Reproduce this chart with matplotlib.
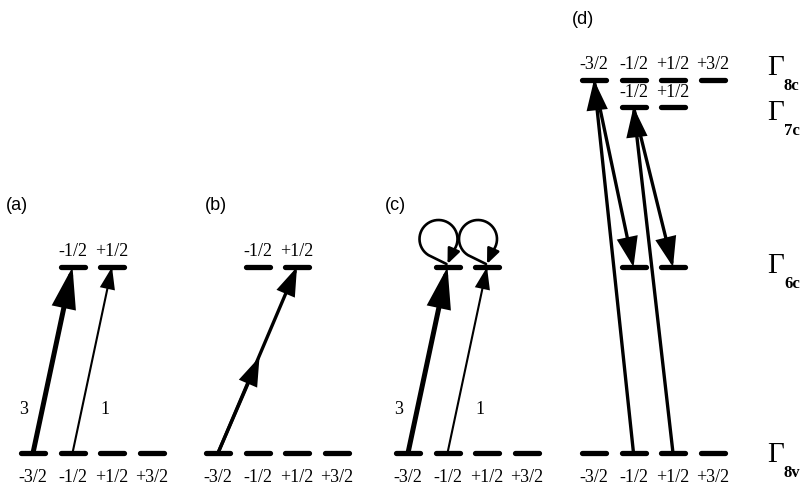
import matplotlib
matplotlib.use('Agg')
import numpy as np
import matplotlib.pyplot as plt
from matplotlib.patches import FancyArrowPatch, ArrowStyle
from matplotlib.path import Path

# spin projections shown under / over each level
spins = ['-3/2', '-1/2', '+1/2', '+3/2']
panel_names = ['(a)', '(b)', '(c)', '(d)']

# level heights (screen-like units, larger = lower on the page)
E = {'8v': 453, '6c': 267, '7c': 107, '8c': 80}
gamma_names = ['8c', '7c', '6c', '8v']

# x of the first column of each panel, and column spacing
panel_x0 = [33, 218, 408, 594]
col_step = 39.5

# which columns each level occupies in each panel
levels = {
    0: {'8v': [0, 1, 2, 3], '6c': [1, 2]},
    1: {'8v': [0, 1, 2, 3], '6c': [1, 2]},
    2: {'8v': [0, 1, 2, 3], '6c': [1, 2]},
    3: {'8v': [0, 1, 2, 3], '6c': [1, 2], '7c': [1, 2], '8c': [0, 1, 2, 3]},
}
# labelled levels: (panel, level, columns, labels)
level_labels = [
    (0, '6c', [1, 2], ['-1/2', '+1/2']),
    (1, '6c', [1, 2], ['-1/2', '+1/2']),
    (3, '8c', [0, 1, 2, 3], spins),
    (3, '7c', [1, 2], ['-1/2', '+1/2']),
]

# transitions: (panel, from level, from col, to level, to col, style)
transitions = [
    (0, '8v', 0, '6c', 1, 'thick'),
    (0, '8v', 1, '6c', 2, 'thin'),
    (1, '8v', 0, '6c', 2, 'mid2'),
    (2, '8v', 0, '6c', 1, 'thick'),
    (2, '8v', 1, '6c', 2, 'thin'),
    (3, '8v', 1, '8c', 0, 'mid'),
    (3, '8c', 0, '6c', 1, 'mid'),
    (3, '8v', 2, '7c', 1, 'mid'),
    (3, '7c', 1, '6c', 2, 'mid'),
]
weights = [(0, '3', '1'), (2, '3', '1')]
loops = [(2, '6c', 1), (2, '6c', 2)]

styles = {
    'thick': dict(lw=3.6, hl=22, hw=6.5),
    'thin': dict(lw=1.5, hl=13, hw=4.5),
    'mid': dict(lw=2.4, hl=17, hw=6.0),
    'mid2': dict(lw=2.4, hl=16, hw=5.5),
}

serif = 'Liberation Serif'
sans = 'Liberation Sans'

fig = plt.figure(figsize=(8.06, 4.91), dpi=100)
ax = fig.add_axes([0, 0, 1, 1])
ax.set_xlim(0, 806)
ax.set_ylim(491, 0)
ax.axis('off')


def colx(p, c):
    return panel_x0[p] + c * col_step


# level dashes
for p, lv in levels.items():
    for name, cols in lv.items():
        for c in cols:
            x = colx(p, c)
            ax.plot([x - 12, x + 12], [E[name], E[name]], color='black', lw=3.8,
                    solid_capstyle='round')
    # bottom spin labels
    for c, s in enumerate(spins):
        ax.text(colx(p, c), 477, s, ha='center', va='center', fontsize=13, family=serif)

for p, name, cols, labs in level_labels:
    off = 16 if name != '7c' else 15
    for c, s in zip(cols, labs):
        ax.text(colx(p, c), E[name] - off, s, ha='center', va='center', fontsize=13,
                family=serif)

# panel letters
ax.text(6, 205, panel_names[0], ha='left', va='center', fontsize=13, family=sans)
ax.text(205, 205, panel_names[1], ha='left', va='center', fontsize=13, family=sans)
ax.text(385, 205, panel_names[2], ha='left', va='center', fontsize=13, family=sans)
ax.text(572, 19, panel_names[3], ha='left', va='center', fontsize=13, family=sans)


def arrow(p0, p1, st):
    s = styles[st]
    a = FancyArrowPatch(p0, p1, arrowstyle=ArrowStyle('-|>', head_length=s['hl'],
                                                      head_width=s['hw']),
                        mutation_scale=1, lw=s['lw'], color='black',
                        shrinkA=0, shrinkB=0, joinstyle='miter')
    ax.add_patch(a)


for p, l0, c0, l1, c1, st in transitions:
    p0 = (colx(p, c0), E[l0])
    p1 = (colx(p, c1), E[l1])
    arrow(p0, p1, st)
    if st == 'mid2':
        mid = ((p0[0] + p1[0]) / 2 + 2, (p0[1] + p1[1]) / 2 - 3)
        arrow(p0, mid, st)

for p, a, b in weights:
    ax.text(colx(p, 0) - 9, 410, a, ha='center', va='center', fontsize=13, family=serif)
    ax.text(colx(p, 0) + 72, 410, b, ha='center', va='center', fontsize=13, family=serif)

# self loops over the conduction levels in (c)
for p, name, c in loops:
    x, y = colx(p, c), E[name]
    cx, cy, r = x - 9, y - 28, 19
    th = np.radians(np.linspace(238, -40, 40))
    verts = [(x - 1, y - 3)] + list(zip(cx + r * np.cos(th), cy - r * np.sin(th))) + [(x, y - 3)]
    path = Path(verts)
    lp = FancyArrowPatch(path=path, arrowstyle=ArrowStyle('-|>', head_length=9,
                                                          head_width=3.8),
                         mutation_scale=1, lw=1.9, color='black')
    ax.add_patch(lp)

# Gamma labels on the right
gamma_y = {'8c': 68, '7c': 113, '6c': 266, '8v': 455}
for g in gamma_names:
    ax.text(767, gamma_y[g], '\u0393', ha='left', va='center', fontsize=21, family=serif)
    ax.text(784, gamma_y[g] + 18, g, ha='left', va='center', fontsize=12,
            family=serif, fontweight='bold')

fig.savefig('out.png', dpi=100)
